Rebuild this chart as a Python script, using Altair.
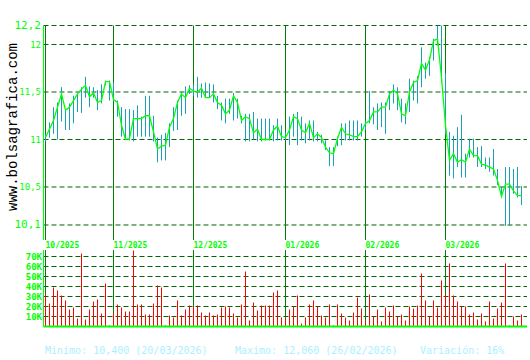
import altair as alt
import pandas as pd

closes = [11.02, 11.11, 11.20, 11.34, 11.48, 11.31, 11.34, 11.41, 11.48, 11.53,
          11.57, 11.45, 11.49, 11.39, 11.41, 11.61, 11.61, 11.42, 11.39, 11.15,
          11.00, 11.01, 11.22, 11.22, 11.22, 11.25, 11.25, 11.08, 10.90, 10.93,
          10.94, 11.13, 11.22, 11.39, 11.48, 11.44, 11.54, 11.51, 11.50, 11.54,
          11.44, 11.44, 11.48, 11.39, 11.36, 11.27, 11.31, 11.46, 11.39, 11.20,
          11.24, 11.22, 11.07, 11.11, 11.00, 11.00, 11.00, 11.10, 11.14, 11.03,
          11.02, 11.10, 11.24, 11.22, 11.10, 11.07, 11.17, 11.02, 11.06, 11.02,
          10.92, 10.86, 10.85, 11.01, 11.13, 11.06, 11.05, 11.03, 11.03, 11.08,
          11.17, 11.20, 11.29, 11.29, 11.34, 11.34, 11.48, 11.52, 11.48, 11.27,
          11.25, 11.50, 11.60, 11.62, 11.80, 11.73, 11.84, 12.04, 12.06, 11.65,
          11.15, 10.78, 10.85, 10.76, 10.79, 10.76, 10.90, 10.83, 10.83, 10.74,
          10.73, 10.71, 10.69, 10.57, 10.40, 10.53, 10.53, 10.46, 10.41, 10.41]

highs = [11.06, 11.18, 11.34, 11.39, 11.55, 11.31, 11.38, 11.46, 11.48, 11.55,
         11.66, 11.56, 11.55, 11.52, 11.58, 11.62, 11.62, 11.60, 11.41, 11.34,
         11.32, 11.32, 11.31, 11.36, 11.24, 11.46, 11.46, 11.25, 11.02, 11.05,
         11.07, 11.17, 11.34, 11.41, 11.50, 11.56, 11.57, 11.58, 11.66, 11.59,
         11.60, 11.59, 11.58, 11.46, 11.39, 11.43, 11.43, 11.49, 11.43, 11.25,
         11.27, 11.27, 11.29, 11.22, 11.22, 11.22, 11.22, 11.15, 11.22, 11.15,
         11.08, 11.24, 11.27, 11.29, 11.24, 11.17, 11.20, 11.20, 11.08, 11.05,
         10.99, 10.92, 10.92, 11.03, 11.17, 11.17, 11.20, 11.20, 11.20, 11.17,
         11.20, 11.51, 11.34, 11.38, 11.39, 11.39, 11.51, 11.58, 11.55, 11.43,
         11.38, 11.64, 11.62, 11.67, 11.97, 11.81, 11.87, 12.06, 12.20, 12.20,
         11.70, 11.08, 11.04, 11.13, 11.26, 10.85, 11.01, 11.01, 10.92, 10.93,
         10.81, 10.81, 10.90, 10.69, 10.50, 10.71, 10.71, 10.69, 10.71, 10.51]

lows = [10.98, 11.02, 11.06, 11.00, 11.19, 11.10, 11.10, 11.17, 11.29, 11.28,
        11.44, 11.34, 11.44, 11.31, 11.38, 11.57, 11.41, 11.40, 11.24, 11.03,
        11.00, 10.99, 10.98, 11.03, 11.03, 11.03, 11.03, 10.98, 10.76, 10.78,
        10.78, 10.92, 11.09, 11.10, 11.25, 11.27, 11.48, 11.46, 11.44, 11.44,
        11.44, 11.44, 11.39, 11.32, 11.20, 11.17, 11.27, 11.20, 11.22, 11.17,
        10.98, 10.98, 11.00, 10.98, 10.98, 10.99, 10.99, 10.98, 10.99, 10.99,
        10.99, 10.94, 11.03, 10.94, 10.99, 10.96, 10.99, 10.98, 10.98, 10.96,
        10.89, 10.72, 10.72, 10.93, 10.94, 10.99, 10.99, 10.99, 10.99, 11.03,
        11.10, 11.17, 11.16, 11.10, 11.13, 11.06, 11.31, 11.38, 11.31, 11.18,
        11.16, 11.29, 11.41, 11.38, 11.55, 11.64, 11.67, 11.83, 11.99, 11.60,
        11.05, 10.62, 10.59, 10.71, 10.60, 10.60, 10.81, 10.81, 10.71, 10.71,
        10.69, 10.66, 10.62, 10.52, 10.39, 10.09, 10.09, 10.43, 10.39, 10.31]

volume_k = [32, 23, 39, 36, 31, 26, 17, 19, 8, 73,
            7, 17, 25, 27, 13, 43, 1, 13, 22, 19,
            15, 15, 76, 22, 22, 12, 12, 23, 41, 39,
            1, 11, 9, 26, 11, 17, 21, 20, 21, 14,
            11, 14, 11, 12, 19, 20, 19, 13, 9, 22,
            55, 6, 24, 16, 21, 21, 21, 34, 36, 9,
            8, 17, 20, 31, 3, 9, 22, 26, 20, 11,
            9, 22, 1, 22, 13, 9, 6, 14, 29, 18,
            5, 32, 10, 17, 5, 19, 15, 21, 10, 12,
            6, 20, 18, 21, 53, 26, 10, 26, 19, 46,
            32, 63, 31, 25, 20, 20, 12, 14, 7, 13,
            5, 25, 8, 18, 24, 63, 1, 10, 6, 12]

month_starts = [0, 17, 37, 60, 80, 100]
month_labels = ["10/2025", "11/2025", "12/2025", "01/2026", "02/2026", "03/2026"]
price_ticks = [12.2, 12, 11.5, 11, 10.5, 10.1]
volume_ticks = [10, 20, 30, 40, 50, 60, 70]
watermark = "www.bolsagrafica.com"
footer_texts = ["Minimo: 10,400 (20/03/2026)", "Maximo: 12,060 (26/02/2026)", "Variación: 16%"]

FONT = "DejaVu Sans Mono"
LIME = "#00ff00"
GRID = "#006400"
MONTH = "#008000"

n = len(closes)
df = pd.DataFrame({"day": list(range(n)), "close": closes, "high": highs,
                   "low": lows, "vol": volume_k, "zero": [0] * n})

X_DOM = [-11.375, 121.125]
P_DOM = [8.6789, 12.4684]
V_DOM = [-33.5, 326.5]
X_LEFT, X_RIGHT = -0.5, 120.375
P_TOP, P_BOT = 12.2, 9.942
V_TOP = 76.5

xs = alt.Scale(domain=X_DOM, nice=False, zero=False)
ps = alt.Scale(domain=P_DOM, nice=False, zero=False)
vs = alt.Scale(domain=V_DOM, nice=False, zero=False)

price_grid_df = pd.DataFrame({"p": price_ticks, "x0": X_LEFT, "x1": X_RIGHT})
price_grid = alt.Chart(price_grid_df).mark_rule(color=GRID, strokeDash=[5, 3], strokeWidth=1).encode(
    x=alt.X("x0:Q", scale=xs, axis=None), x2="x1:Q",
    y=alt.Y("p:Q", scale=ps, axis=alt.Axis(
        orient="left", offset=-43.5, values=price_ticks,
        labelExpr="replace(format(datum.value, '.1~f'), '.', ',')",
        ticks=False, tickSize=0, domain=False, grid=False, title=None,
        labelColor=LIME, labelFont=FONT, labelPadding=3, labelOverlap=False,
        labelFontSize={"condition": {"test": "datum.value == 12.2 || datum.value == 10.1", "value": 11}, "value": 9},
    )),
)

month_df = pd.DataFrame({"day": month_starts, "label": month_labels,
                         "ptop": P_TOP, "pbot": P_BOT, "vtop": V_TOP, "vbot": 0})
price_months = alt.Chart(month_df).mark_rule(color=MONTH, strokeWidth=1).encode(
    x=alt.X("day:Q", scale=xs, axis=None),
    y=alt.Y("ptop:Q", scale=ps, axis=None), y2="pbot:Q")

edge_df = pd.DataFrame({"x": [X_LEFT], "ptop": [P_TOP], "pbot": [P_BOT], "vtop": [V_TOP], "vbot": [0]})
price_edge = alt.Chart(edge_df).mark_rule(color=LIME, strokeWidth=1).encode(
    x=alt.X("x:Q", scale=xs, axis=None),
    y=alt.Y("ptop:Q", scale=ps, axis=None), y2="pbot:Q")

hl = alt.Chart(df).mark_rule(color="#17a0b8", strokeWidth=1).encode(
    x=alt.X("day:Q", scale=xs, axis=None),
    y=alt.Y("low:Q", scale=ps, axis=None), y2="high:Q")

close_line = alt.Chart(df).mark_line(color=LIME, strokeWidth=1.3).encode(
    x=alt.X("day:Q", scale=xs, axis=None),
    y=alt.Y("close:Q", scale=ps, axis=None))

vol_grid_df = pd.DataFrame({"v": volume_ticks, "x0": X_LEFT, "x1": X_RIGHT})
vol_grid = alt.Chart(vol_grid_df).mark_rule(color=GRID, strokeDash=[5, 3], strokeWidth=1).encode(
    x=alt.X("x0:Q", scale=xs, axis=None), x2="x1:Q",
    y=alt.Y("v:Q", scale=vs, axis=alt.Axis(
        orient="left", offset=-43.5, values=volume_ticks,
        labelExpr="datum.value + 'K'",
        ticks=False, tickSize=0, domain=False, grid=False, title=None,
        labelColor=LIME, labelFont=FONT, labelFontSize=9, labelFontWeight="bold",
        labelPadding=2, labelOverlap=False,
    )),
)

vol_months = alt.Chart(month_df).mark_rule(color=MONTH, strokeWidth=1).encode(
    x=alt.X("day:Q", scale=xs, axis=None),
    y=alt.Y("vtop:Q", scale=vs, axis=None), y2="vbot:Q")

vol_bars = alt.Chart(df).mark_rule(color="#ff0000", strokeWidth=1).encode(
    x=alt.X("day:Q", scale=xs, axis=None),
    y=alt.Y("vol:Q", scale=vs, axis=None), y2="zero:Q")

base_df = pd.DataFrame({"x0": [X_LEFT], "x1": [X_RIGHT], "v": [0]})
vol_base = alt.Chart(base_df).mark_rule(color=LIME, strokeWidth=2).encode(
    x=alt.X("x0:Q", scale=xs, axis=None), x2="x1:Q",
    y=alt.Y("v:Q", scale=vs, axis=None))

vol_edge = alt.Chart(edge_df).mark_rule(color=LIME, strokeWidth=1).encode(
    x=alt.X("x:Q", scale=xs, axis=None),
    y=alt.Y("vtop:Q", scale=vs, axis=None), y2="vbot:Q")

month_text = alt.Chart(month_df).mark_text(
    align="left", baseline="alphabetic", font=FONT, fontSize=8, fontWeight="bold", color=LIME
).encode(x=alt.X("day:Q", scale=xs, axis=None), y=alt.value(247.5), text="label:N")

wm = alt.Chart(pd.DataFrame({"t": [watermark]})).mark_text(
    angle=270, align="center", baseline="middle", font="Liberation Mono", fontSize=14, color="black"
).encode(x=alt.value(13), y=alt.value(127), text="t:N")

footer_layers = []
for txt, px in zip(footer_texts, [45, 235, 420]):
    footer_layers.append(
        alt.Chart(pd.DataFrame({"t": [txt]})).mark_text(
            align="left", baseline="middle", font=FONT, fontSize=10, color="#aaf0ff"
        ).encode(x=alt.value(px), y=alt.value(351), text="t:N")
    )

chart = alt.layer(
    price_grid, price_months, price_edge, hl, close_line,
    vol_grid, vol_months, vol_bars, vol_base, vol_edge,
    month_text, wm, *footer_layers
).resolve_scale(y="independent").properties(
    width=530, height=360, padding=0,
    autosize=alt.AutoSizeParams(type="none"),
    background="white",
).configure_view(strokeWidth=0)

chart.save("out.html", embed_options={"renderer": "svg", "actions": False})
